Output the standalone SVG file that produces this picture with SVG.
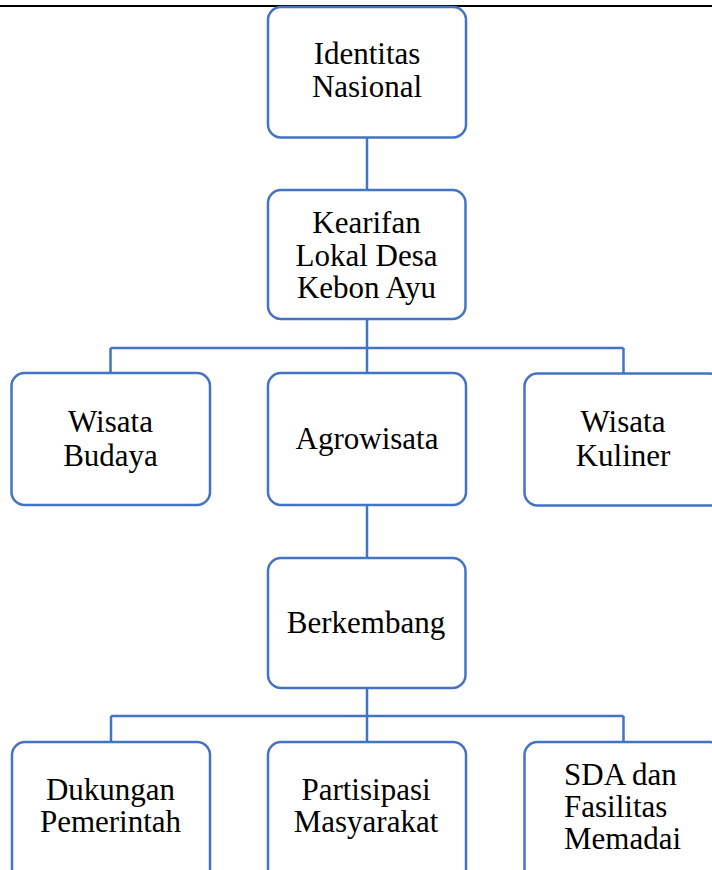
<svg xmlns="http://www.w3.org/2000/svg" width="712" height="870" viewBox="0 0 712 870">
<style>
.box{fill:#ffffff;stroke:#4472c4;stroke-width:2.5}
.con{fill:none;stroke:#4472c4;stroke-width:2.5}
text{font-family:"Liberation Serif","Times New Roman",serif;font-size:31px;fill:#000000}
.c{text-anchor:middle}
</style>
<rect x="0" y="0" width="712" height="870" fill="#ffffff"/>
<line x1="0" y1="6" x2="712" y2="6" stroke="#000000" stroke-width="2.2"/>
<g id="connectors">
<path class="con" d="M367 137.5V190"/>
<path class="con" d="M367 319V373M110.5 348H623.5M110.5 348V373M623.5 348V373"/>
<path class="con" d="M367 505V558"/>
<path class="con" d="M367 688V742M111 716H623.5M111 716V742M623.5 716V742"/>
</g>
<g id="n-identitas">
<rect class="box" x="268" y="7" width="198" height="130.5" rx="13"/>
<text class="c" x="367" y="63.5">Identitas</text>
<text class="c" x="367" y="97">Nasional</text>
</g>
<g id="n-kearifan">
<rect class="box" x="268" y="190" width="197.5" height="129" rx="13"/>
<text class="c" x="366.5" y="232.5">Kearifan</text>
<text class="c" x="366.5" y="265.5">Lokal Desa</text>
<text class="c" x="366.5" y="297.5">Kebon Ayu</text>
</g>
<g id="n-budaya">
<rect class="box" x="11.5" y="373" width="198.5" height="132" rx="13"/>
<text class="c" x="110.5" y="432">Wisata</text>
<text class="c" x="110.5" y="465.5">Budaya</text>
</g>
<g id="n-agro">
<rect class="box" x="268" y="373" width="198" height="132" rx="13"/>
<text class="c" x="367" y="449">Agrowisata</text>
</g>
<g id="n-kuliner">
<rect class="box" x="524.5" y="373.5" width="198" height="132" rx="13"/>
<text class="c" x="623" y="432">Wisata</text>
<text class="c" x="623" y="466">Kuliner</text>
</g>
<g id="n-berkembang">
<rect class="box" x="268" y="558" width="197.5" height="130" rx="13"/>
<text class="c" x="366" y="633">Berkembang</text>
</g>
<g id="n-pemerintah">
<rect class="box" x="12" y="742" width="198" height="140" rx="13"/>
<text class="c" x="110.5" y="800">Dukungan</text>
<text class="c" x="110.5" y="832">Pemerintah</text>
</g>
<g id="n-masyarakat">
<rect class="box" x="268" y="742" width="198" height="140" rx="13"/>
<text class="c" x="366" y="800">Partisipasi</text>
<text class="c" x="366" y="832">Masyarakat</text>
</g>
<g id="n-sda">
<rect class="box" x="524.5" y="742" width="198" height="140" rx="13"/>
<text x="564" y="785">SDA dan</text>
<text x="564" y="817">Fasilitas</text>
<text x="564" y="849">Memadai</text>
</g>
</svg>
